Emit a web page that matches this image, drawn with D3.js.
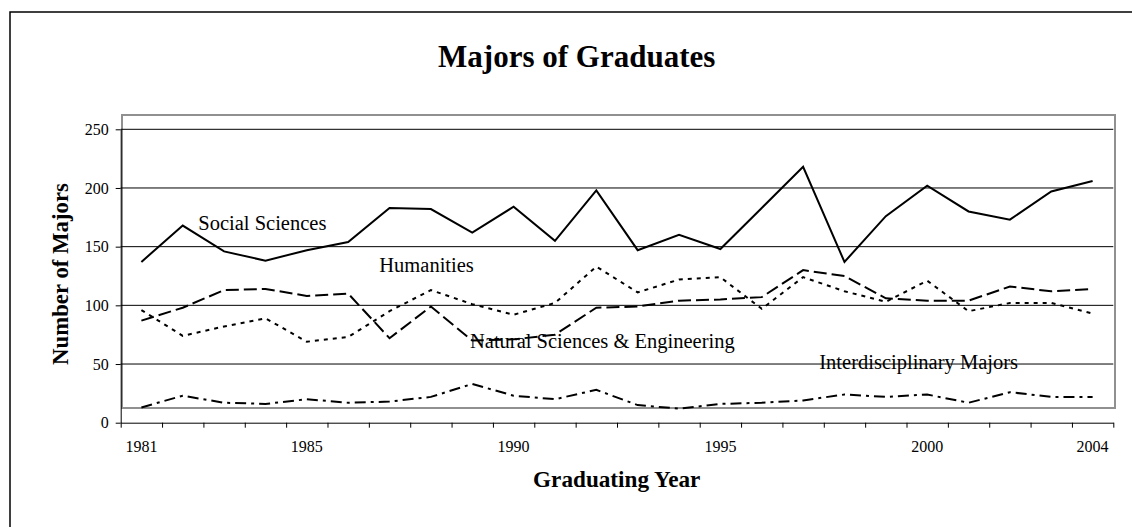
<!DOCTYPE html>
<html>
  <head>
    <meta charset="utf-8">
    <script src="https://cdn.jsdelivr.net/npm/d3@7"></script>
    <style>
      body { margin: 0; background: white; }
      svg { display: block; font-family: "Liberation Serif", "Times New Roman", serif; }
      .series { fill: none; stroke: black; stroke-width: 2px; }
      .axis path, .axis line { stroke: black; stroke-width: 1px; }
      .grid { stroke: black; stroke-width: 1px; }
    </style>
  </head>
  <body>
    <svg id="chart" width="1132" height="527"></svg>
    <script>
      var years = ["1981","1982","1983","1984","1985","1986","1987","1988","1989","1990","1991","1992",
                   "1993","1994","1995","1996","1997","1998","1999","2000","2001","2002","2003","2004"];
      var shownYears = ["1981","1985","1990","1995","2000","2004"];
      var yTicks = [0, 50, 100, 150, 200, 250];

      var socialSciences = [137,168,146,138,147,154,183,182,162,184,155,198,147,160,148,183,218,137,176,202,180,173,197,206];
      var humanities = [96,74,82,89,69,73,95,113,101,92,102,133,111,122,124,97,124,112,103,121,95,102,102,93];
      var naturalSciences = [87,98,113,114,108,110,72,99,70,71,75,98,99,104,105,107,130,125,106,104,104,116,112,114];
      var interdisciplinary = [13,23,17,16,20,17,18,22,33,23,20,28,15,12,16,17,19,24,22,24,17,26,22,22];

      var seriesNames = ["Social Sciences", "Humanities", "Natural Sciences & Engineering", "Interdisciplinary Majors"];

      var svg = d3.select("#chart");
      var plotLeft = 120.7, plotRight = 1113.3, plotTop = 129.3, plotBottom = 422.7;

      var x = d3.scaleBand().domain(years).range([plotLeft, plotRight]);
      var xEdge = d3.scaleLinear().domain([0, years.length]).range([plotLeft, plotRight]);
      var y = d3.scaleLinear().domain([0, 250]).range([plotBottom, plotTop]);

      // outer chart frame (runs off the right and bottom of the picture)
      svg.append("rect")
        .attr("x", 10).attr("y", 12).attr("width", 1200).attr("height", 600)
        .style("fill", "none").style("stroke", "black").style("stroke-width", "1.5px");

      // gray plot-area border
      svg.append("rect")
        .attr("x", 122).attr("y", 115).attr("width", 993).attr("height", 293)
        .style("fill", "none").style("stroke", "#909090").style("stroke-width", "2px");

      svg.append("g").selectAll("line")
        .data(yTicks.filter(d => d > 0))
        .enter().append("line")
        .attr("class", "grid")
        .attr("x1", plotLeft).attr("x2", plotRight)
        .attr("y1", d => y(d)).attr("y2", d => y(d));

      // y axis
      var yAxis = svg.append("g").attr("class", "axis")
        .attr("transform", "translate(" + plotLeft + ",0)")
        .call(d3.axisLeft(y).tickValues(yTicks).tickSize(5).tickSizeOuter(0))
        .attr("font-family", null).attr("font-size", null);
      yAxis.selectAll("text")
        .style("font-size", "16px").style("fill", "black")
        .attr("x", -12);

      // x axis: ticks between categories
      svg.append("g").attr("class", "axis")
        .attr("transform", "translate(0," + plotBottom + ")")
        .call(d3.axisBottom(xEdge).tickValues(d3.range(years.length + 1)).tickFormat("").tickSize(5).tickSizeOuter(0));

      svg.append("g").selectAll("text")
        .data(shownYears)
        .enter().append("text")
        .attr("x", d => x(d) + x.bandwidth() / 2)
        .attr("y", 451.7)
        .attr("text-anchor", "middle")
        .style("font-size", "16px")
        .text(d => d);

      var line = d3.line()
        .x((d, i) => x(years[i]) + x.bandwidth() / 2)
        .y(d => y(d));

      var seriesData = [socialSciences, humanities, naturalSciences, interdisciplinary];
      var dashes = ["none", "4 5", "13 5", "11 5 3 5"];

      svg.append("g").selectAll("path")
        .data(seriesData)
        .enter().append("path")
        .attr("class", "series")
        .attr("d", d => line(d))
        .style("stroke-dasharray", (d, i) => dashes[i]);

      // series labels placed on the plot
      var labelPos = [[198.3, 230], [379.3, 271.7], [470, 348.3], [819.3, 369.3]];
      svg.append("g").selectAll("text")
        .data(seriesNames)
        .enter().append("text")
        .attr("x", (d, i) => labelPos[i][0])
        .attr("y", (d, i) => labelPos[i][1])
        .style("font-size", "20.5px")
        .text(d => d);

      svg.append("text")
        .attr("x", 576.7).attr("y", 67.3)
        .attr("text-anchor", "middle")
        .style("font-size", "31px").style("font-weight", "bold")
        .text("Majors of Graduates");

      svg.append("text")
        .attr("x", 616.7).attr("y", 487.3)
        .attr("text-anchor", "middle")
        .style("font-size", "23.2px").style("font-weight", "bold")
        .text("Graduating Year");

      svg.append("text")
        .attr("transform", "translate(67.7,274) rotate(-90)")
        .attr("text-anchor", "middle")
        .style("font-size", "22.8px").style("font-weight", "bold")
        .text("Number of Majors");
    </script>
  </body>
</html>
